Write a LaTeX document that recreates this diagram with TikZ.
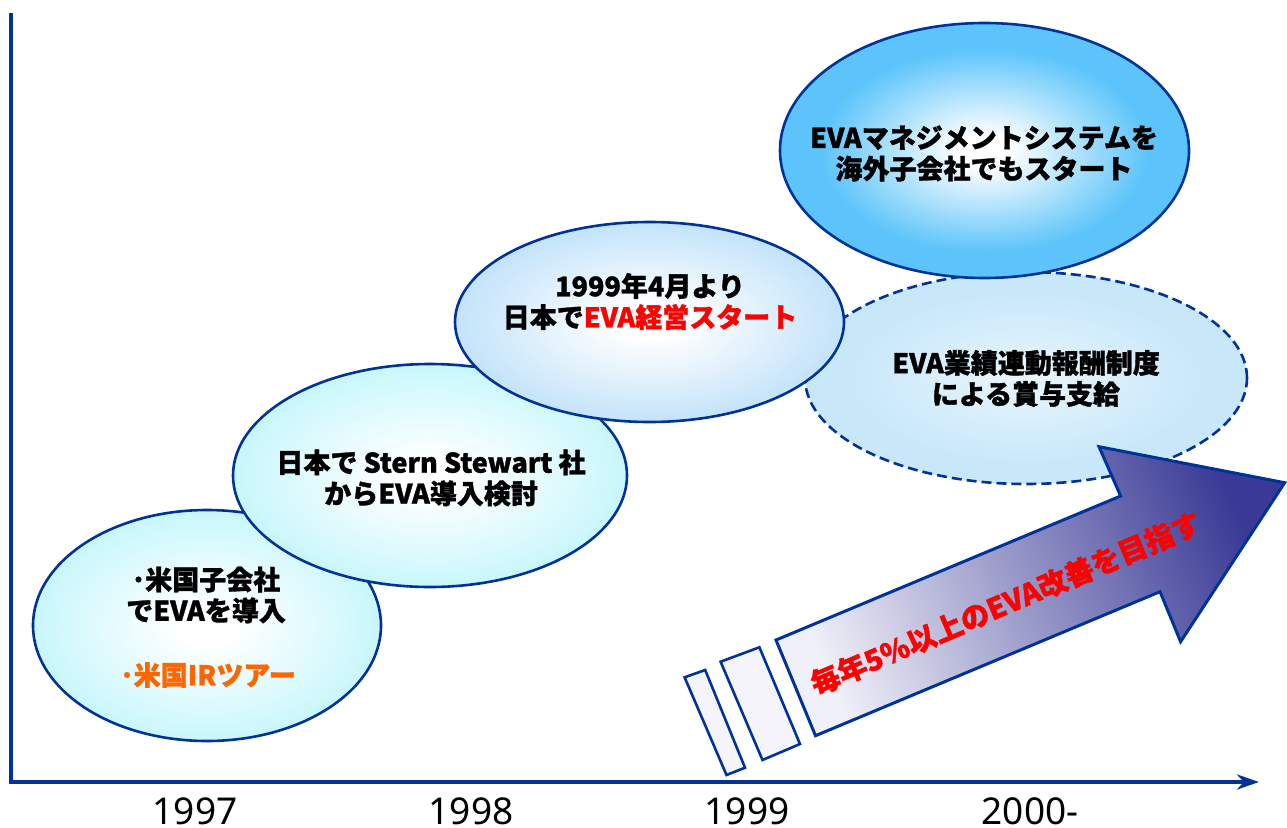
\documentclass[tikz,border=0pt]{standalone}
\usepackage{fontspec}
\newfontfamily\jp{Noto Sans CJK JP}[BoldFeatures={FakeBold=1.2}]
\newfontfamily\yr{Noto Sans}
\usetikzlibrary{arrows.meta,shapes.geometric}
\definecolor{axb}{RGB}{0,51,153}
\definecolor{cC}{RGB}{200,247,252}
\definecolor{cB}{RGB}{195,227,250}
\definecolor{cT}{RGB}{92,196,250}
\definecolor{cD}{RGB}{200,232,250}
\definecolor{aL}{RGB}{240,240,248}
\definecolor{aH}{RGB}{58,58,150}
\definecolor{orng}{RGB}{255,102,0}
\definecolor{rF}{RGB}{244,244,250}
\pgfdeclareradialshading{shC}{\pgfpointorigin}{color(0bp)=(white); color(4bp)=(white); color(25bp)=(cC); color(50bp)=(cC)}
\pgfdeclareradialshading{shB}{\pgfpointorigin}{color(0bp)=(white); color(4bp)=(white); color(25bp)=(cB); color(50bp)=(cB)}
\pgfdeclareradialshading{shT}{\pgfpointorigin}{color(0bp)=(white); color(3bp)=(white); color(20bp)=(cT); color(50bp)=(cT)}
\pgfdeclareradialshading{shD}{\pgfpointorigin}{color(0bp)=(white!60!cD); color(20bp)=(cD); color(50bp)=(cD)}
\begin{document}
\begin{tikzpicture}[x=1pt,y=-1pt,
  ell/.style={ellipse, draw=axb, line width=2.6pt, inner sep=0pt},
  jt/.style={font=\jp\bfseries\fontsize{27}{31}\selectfont, align=center, inner sep=0pt},
  yl/.style={font=\yr\fontsize{37}{37}\selectfont, anchor=base, inner sep=0pt},
  rectpiece/.style={draw=axb, line width=2.6pt, fill=rF, line join=miter}]
\useasboundingbox (0,0) rectangle (1287,827);
% ellipses
\node[ell, shading=shC, minimum width=348pt, minimum height=231pt] (e97) at (207,625.5) {};
\node[ell, shading=shC, minimum width=394pt, minimum height=223pt] (e98) at (430,475.5) {};
\node[ell, shading=shD, dash pattern=on 10pt off 5pt, minimum width=442pt, minimum height=212pt] (edash) at (1026,378) {};
\node[ell, shading=shB, minimum width=389pt, minimum height=200pt] (e99) at (649.5,322) {};
\node[ell, shading=shT, minimum width=409pt, minimum height=255pt] (etop) at (984.5,150.5) {};
% texts
\node[jt] (t97a) at (206,595) {･米国子会社\\でEVAを導入};
\node[jt, text=orng] (t97b) at (208,675) {･米国IRツアー};
\node[jt] (t98) at (431,478) {日本で Stern Stewart 社\\からEVA導入検討};
\node[jt] (t99) at (650,301.5) {1999年4月より\\日本で\textcolor{red}{EVA経営スタート}};
\node[jt] (ttop) at (984,153.5) {EVAマネジメントシステムを\\海外子会社でもスタート};
\node[jt] (tdash) at (1026,378.5) {EVA業績連動報酬制度\\による賞与支給};
% big arrow
\path[draw=axb, line width=3pt, line join=miter, top color=aH, bottom color=aL, shading angle=-67]
  (815.5,735.7) -- (776,640) -- (1120.6,496) -- (1099,446.7) -- (1284.7,482.7) -- (1180.6,641.7) -- (1160,591.7) -- cycle;
\draw[rectpiece] (720.6,661.7) -- (759.4,647.3) -- (800,744) -- (762.5,760) -- cycle;
\draw[rectpiece] (684.6,677.3) -- (705.2,670) -- (745,767.7) -- (726.5,775) -- cycle;
\node[font=\jp\bfseries\fontsize{29}{29}\selectfont, text=red, rotate=23, inner sep=0pt] (atext) at (1005.6,603.3) {毎年5\%以上のEVA改善を目指す};
% axes
\coordinate (ytop) at (11,13);
\coordinate (orig) at (11,782);
\coordinate (xend) at (1259,782);
\draw[axb, line width=4pt, -{Stealth[length=22pt, width=15pt, inset=7pt]}] (ytop) -- (orig) -- (xend);
% year labels
\node[yl] (y97) at (195,824) {1997};
\node[yl] (y98) at (471,824) {1998};
\node[yl] (y99) at (747,824) {1999};
\node[yl] (y00) at (1030,824) {2000-};
\end{tikzpicture}
\end{document}
